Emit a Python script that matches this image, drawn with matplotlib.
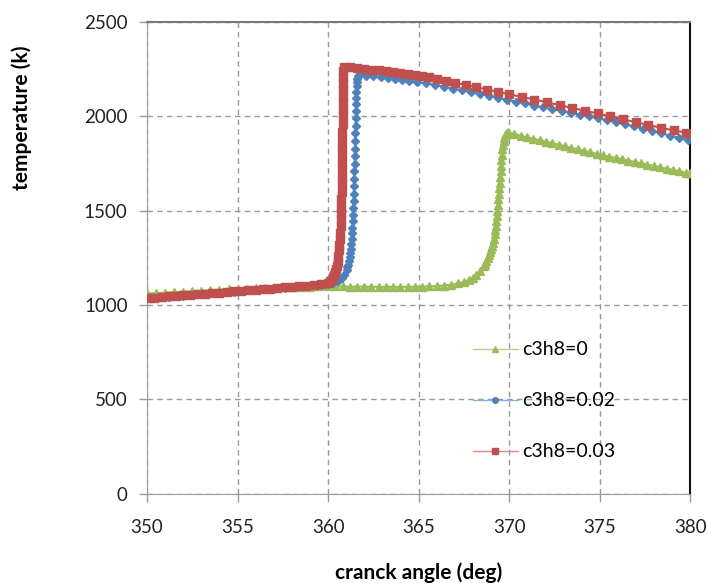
import matplotlib
matplotlib.use('Agg')
from matplotlib import pyplot as plt
from matplotlib.lines import Line2D

# crank angle (deg) / temperature (K) samples for each propane fraction
x_c0 = [350.0, 350.5, 351.0, 351.5, 352.0, 352.5, 353.0, 353.5, 354.0, 354.5,
        355.0, 355.5, 356.0, 356.5, 357.0, 357.5, 358.0, 358.5, 359.0, 359.5,
        360.0, 360.4, 360.8, 361.2, 361.6, 362.0, 362.4, 362.8, 363.2, 363.6,
        364.0, 364.4, 364.8, 365.2, 365.6, 366.0, 366.4, 366.8, 367.2, 367.5,
        367.8, 368.0, 368.2, 368.4, 368.6, 368.68, 368.75, 368.82, 368.9,
        368.95, 369.0, 369.05, 369.1, 369.15, 369.2, 369.24, 369.27, 369.3,
        369.33, 369.355, 369.38, 369.405, 369.43, 369.455, 369.48, 369.505,
        369.53, 369.555, 369.58, 369.605, 369.63, 369.665, 369.7, 369.74,
        369.78, 369.82, 369.86, 369.95,
        370.3, 370.65, 371.0, 371.35, 371.7, 372.05, 372.4, 372.75, 373.1,
        373.45, 373.8, 374.15, 374.5, 374.85, 375.2, 375.55, 375.9, 376.25,
        376.6, 376.95, 377.3, 377.65, 378.0, 378.35, 378.7, 379.05, 379.4,
        379.75, 380.0]
t_c0 = [1062, 1064, 1066, 1069, 1071, 1074, 1076, 1079, 1081, 1084,
        1086, 1088, 1090, 1092, 1093, 1095, 1096, 1097, 1098, 1099,
        1099, 1099, 1099, 1098, 1098, 1098, 1097, 1097, 1097, 1097,
        1097, 1097, 1098, 1098, 1099, 1101, 1104, 1108, 1115, 1122,
        1133, 1145, 1160, 1180, 1205, 1218, 1232, 1248, 1265,
        1280, 1295, 1312, 1330, 1352, 1375, 1398, 1420, 1445,
        1470, 1500, 1530, 1560, 1590, 1620, 1650, 1680,
        1710, 1740, 1770, 1798, 1825, 1850, 1870, 1887,
        1900, 1908, 1914, 1916,
        1907, 1898, 1890, 1882, 1874, 1866, 1858, 1850, 1842,
        1834, 1826, 1818, 1810, 1802, 1794, 1787, 1780, 1773,
        1766, 1759, 1752, 1745, 1738, 1731, 1724, 1717, 1710,
        1703, 1698]

x_c002 = [350.0, 350.4, 350.8, 351.2, 351.6, 352.0, 352.4, 352.8, 353.2, 353.6,
          354.0, 354.4, 354.8, 355.2, 355.6, 356.0, 356.4, 356.8, 357.2, 357.6,
          358.0, 358.4, 358.8, 359.2, 359.6, 360.0, 360.3, 360.55, 360.75,
          360.9, 361.02, 361.07, 361.12, 361.16, 361.2, 361.23, 361.26, 361.285,
          361.31, 361.33, 361.35, 361.365, 361.38, 361.395, 361.41, 361.42,
          361.435, 361.45, 361.46, 361.47, 361.48, 361.49, 361.5, 361.51,
          361.52, 361.53, 361.54, 361.55, 361.56, 361.57, 361.585, 361.6,
          361.62, 361.65, 361.7,
          362.1, 362.5, 362.9, 363.3, 363.7, 364.1, 364.5, 364.9, 365.4, 365.9,
          366.4, 366.9, 367.4, 367.9, 368.4, 368.9, 369.4, 369.9, 370.4, 370.9,
          371.4, 371.9, 372.4, 372.9, 373.4, 373.9, 374.4, 374.9, 375.4, 375.9,
          376.4, 376.9, 377.4, 377.9, 378.4, 378.9, 379.4, 379.9]
t_c002 = [1036, 1039, 1042, 1045, 1048, 1051, 1054, 1057, 1060, 1063,
          1066, 1069, 1072, 1075, 1078, 1081, 1084, 1087, 1090, 1093,
          1096, 1099, 1102, 1105, 1108, 1111, 1118, 1128, 1142,
          1160, 1185, 1200, 1215, 1235, 1255, 1277, 1300, 1325,
          1350, 1380, 1410, 1445, 1480, 1515, 1550, 1590,
          1630, 1670, 1710, 1750, 1790, 1830, 1870, 1910,
          1950, 1990, 2030, 2065, 2100, 2130, 2160, 2185,
          2200, 2213, 2220,
          2217, 2213, 2209, 2204, 2199, 2194, 2189, 2184, 2176, 2167,
          2158, 2148, 2139, 2129, 2119, 2109, 2099, 2089, 2079, 2069,
          2058, 2048, 2039, 2029, 2020, 2010, 2001, 1991, 1981, 1970,
          1959, 1947, 1935, 1923, 1911, 1899, 1886, 1873]

x_c003 = [350.0, 350.4, 350.8, 351.2, 351.6, 352.0, 352.4, 352.8, 353.2, 353.6,
          354.0, 354.4, 354.8, 355.2, 355.6, 356.0, 356.4, 356.8, 357.2, 357.6,
          358.0, 358.4, 358.8, 359.2, 359.6, 360.0, 360.1, 360.2, 360.28,
          360.35, 360.41, 360.45, 360.5, 360.53, 360.57, 360.6, 360.63, 360.65,
          360.67, 360.69, 360.705, 360.72, 360.73, 360.74, 360.75, 360.76,
          360.765, 360.77, 360.775, 360.78, 360.785, 360.79, 360.795, 360.8,
          360.805, 360.81, 360.815, 360.82, 360.825, 360.83, 360.835, 360.84,
          360.86,
          361.2, 361.6, 362.0, 362.4, 362.8, 363.2, 363.6, 364.0, 364.4, 364.8,
          365.2, 365.6, 366.0, 366.5, 367.0, 367.6, 368.2, 368.8, 369.4, 370.0,
          370.7, 371.4, 372.1, 372.8, 373.5, 374.2, 374.9, 375.6, 376.3, 377.0,
          377.7, 378.4, 379.1, 379.8]
t_c003 = [1036, 1040, 1043, 1046, 1049, 1052, 1055, 1058, 1061, 1064,
          1067, 1070, 1073, 1076, 1079, 1082, 1085, 1088, 1091, 1094,
          1097, 1100, 1104, 1108, 1113, 1120, 1127, 1135, 1147,
          1160, 1175, 1190, 1210, 1230, 1260, 1290, 1320, 1350,
          1385, 1420, 1455, 1490, 1525, 1560, 1600, 1640,
          1680, 1720, 1760, 1800, 1840, 1880, 1920, 1960,
          2000, 2040, 2075, 2110, 2145, 2180, 2210, 2240,
          2262,
          2260, 2256, 2252, 2248, 2244, 2240, 2235, 2230, 2225, 2220,
          2214, 2208, 2200, 2190, 2180, 2168, 2155, 2143, 2130, 2118,
          2104, 2090, 2075, 2060, 2045, 2030, 2016, 2000, 1985, 1970,
          1955, 1940, 1926, 1914]

labels = ['c3h8=0', 'c3h8=0.02', 'c3h8=0.03']
x_ticks = [350, 355, 360, 365, 370, 375, 380]
y_ticks = [0, 500, 1000, 1500, 2000, 2500]

green, blue, red = '#9BBB59', '#4F81BD', '#C0504D'

plt.rcParams['font.family'] = ['Lato', 'DejaVu Sans']

fig = plt.figure(figsize=(7.07, 5.83), dpi=100)
ax = fig.add_axes([0.208, 0.153, 0.768, 0.809])

ax.plot(x_c0, t_c0, color=green, lw=1.5, marker='^', ms=5.5,
        mec=green, zorder=3)
ax.plot(x_c002, t_c002, color=blue, lw=1.5, marker='D', ms=4,
        mec=blue, zorder=4)
ax.plot(x_c003, t_c003, color=red, lw=1.5, marker='s', ms=5.5,
        mec=red, zorder=5)

ax.set_xlim(350, 380)
ax.set_ylim(0, 2500)
ax.set_xticks(x_ticks)
ax.set_yticks(y_ticks)
ax.tick_params(labelsize=13.5, colors='#222222', length=6, width=1)
ax.tick_params(axis='both', color='#999999')
ax.tick_params(axis='x', pad=12)
ax.tick_params(axis='y', pad=8)

ax.grid(True, color='#999999', linestyle=(0, (4, 3)), lw=1)
for sp in ['left', 'bottom']:
    ax.spines[sp].set_color('#999999')
ax.spines['top'].set_color('#777777')
ax.spines['top'].set_linewidth(1.5)
ax.spines['right'].set_color('#111111')
ax.spines['right'].set_linewidth(1.5)

ax.set_xlabel('cranck angle (deg)', fontsize=15, fontweight='bold', va='center')
ax.xaxis.set_label_coords(0.5, -0.167)
ax.set_ylabel('temperature (k)', fontsize=15, fontweight='bold', va='center')
ax.yaxis.set_label_coords(-0.230, 0.797)

# thin, pale legend keys
handles = [
    Line2D([], [], color='#b5d08a', lw=1, marker='^', ms=5, mfc=green, mec=green),
    Line2D([], [], color='#8eaedb', lw=1, marker='o', ms=4, mfc=blue, mec=blue),
    Line2D([], [], color='#d98a88', lw=1, marker='s', ms=5, mfc=red, mec=red),
]
ax.legend(handles, labels, loc='center left', bbox_to_anchor=(0.60, 0.197),
          frameon=False, fontsize=14, labelspacing=1.75, handlelength=2.3,
          handletextpad=0.25, borderpad=0, borderaxespad=0)

fig.savefig('out.png', dpi=100)
